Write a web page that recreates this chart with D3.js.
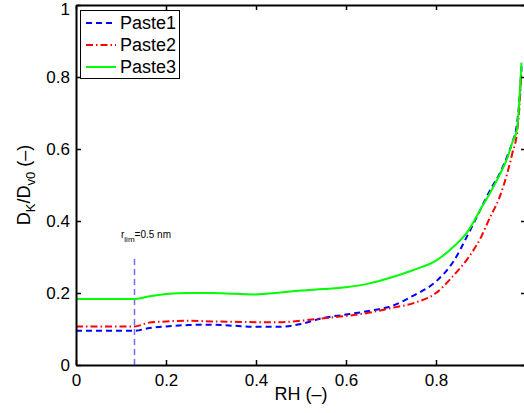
<!DOCTYPE html>
<html><head><meta charset="utf-8">
<script src="https://cdn.jsdelivr.net/npm/d3@7"></script>
<style>body{margin:0;background:#fff;} svg{display:block;font-family:Arial,"Liberation Sans",sans-serif;}</style>
</head><body>
<svg id="c" width="524" height="413"></svg>
<script>
const rh = [0, 0.05, 0.1, 0.13, 0.16, 0.2, 0.25, 0.3, 0.35, 0.4, 0.45, 0.5, 0.55, 0.6, 0.65, 0.7, 0.75, 0.8, 0.84, 0.87, 0.9, 0.92, 0.94, 0.96, 0.97, 0.98, 0.985, 0.99];
const paste1 = [0.095, 0.095, 0.095, 0.095, 0.102, 0.107, 0.111, 0.112, 0.109, 0.106, 0.106, 0.114, 0.131, 0.14, 0.15, 0.163, 0.193, 0.232, 0.29, 0.36, 0.435, 0.485, 0.528, 0.585, 0.62, 0.67, 0.73, 0.83];
const paste2 = [0.107, 0.107, 0.107, 0.107, 0.117, 0.121, 0.123, 0.121, 0.12, 0.119, 0.119, 0.123, 0.13, 0.136, 0.145, 0.158, 0.172, 0.2, 0.25, 0.295, 0.355, 0.41, 0.462, 0.54, 0.59, 0.645, 0.71, 0.82];
const paste3 = [0.183, 0.183, 0.183, 0.183, 0.19, 0.197, 0.2, 0.2, 0.198, 0.196, 0.201, 0.207, 0.211, 0.216, 0.226, 0.243, 0.264, 0.29, 0.33, 0.37, 0.435, 0.478, 0.525, 0.58, 0.62, 0.655, 0.73, 0.84];
const seriesNames = ["Paste1", "Paste2", "Paste3"];
const xTicks = [0, 0.2, 0.4, 0.6, 0.8];
const yTicks = [0, 0.2, 0.4, 0.6, 0.8, 1];
const rLim = 0.13;
const rLimTop = 0.297;

const svg = d3.select("#c");
const L = 76, R = 526, T = 5, B = 365;
const x = d3.scaleLinear().domain([0, 1]).range([L, R]);
const y = d3.scaleLinear().domain([0, 1]).range([B, T]);

svg.append("defs").append("clipPath").attr("id", "clip")
  .append("rect").attr("x", L).attr("y", T).attr("width", R - L).attr("height", B - T);

const styles = [
  {color: "#0000ff", dash: "6,4"},
  {color: "#ff0000", dash: "7,3,1.5,3"},
  {color: "#00ff00", dash: null}
];
const data = [paste1, paste2, paste3];

// vertical marker
svg.append("line")
  .attr("x1", x(rLim)).attr("x2", x(rLim))
  .attr("y1", y(0)).attr("y2", y(rLimTop))
  .attr("stroke", "#6e6eff").attr("stroke-width", 1.5).attr("stroke-dasharray", "6,4");

const line = d3.line().x(d => x(d[0])).y(d => y(d[1])).curve(d3.curveMonotoneX);
const g = svg.append("g").attr("clip-path", "url(#clip)");
data.forEach((vals, i) => {
  g.append("path")
    .datum(rh.map((v, j) => [v, vals[j]]))
    .attr("d", line)
    .attr("fill", "none")
    .attr("stroke", styles[i].color)
    .attr("stroke-width", 2)
    .attr("stroke-dasharray", styles[i].dash);
});

// axes
const fmt = d => d === 0 ? "0" : d === 1 ? "1" : d3.format(".1f")(d);
const axB = svg.append("g").attr("transform", `translate(0,${B})`)
  .call(d3.axisBottom(x).tickValues(xTicks).tickFormat(fmt).tickSizeInner(-5).tickSizeOuter(0).tickPadding(9));
const axL = svg.append("g").attr("transform", `translate(${L},0)`)
  .call(d3.axisLeft(y).tickValues(yTicks).tickFormat(fmt).tickSizeInner(-5).tickSizeOuter(0).tickPadding(6));
const axT = svg.append("g").attr("transform", `translate(0,${T})`)
  .call(d3.axisTop(x).tickValues(xTicks).tickFormat("").tickSizeInner(-5).tickSizeOuter(0));
const axR = svg.append("g").attr("transform", `translate(${R},0)`)
  .call(d3.axisRight(y).tickValues(yTicks).tickFormat("").tickSizeInner(-5).tickSizeOuter(0));
[axB, axL, axT, axR].forEach(a => {
  a.select(".domain").attr("stroke", "#000").attr("stroke-width", 2);
  a.selectAll(".tick line").attr("stroke", "#000").attr("stroke-width", 1.5);
  a.selectAll("text").attr("fill", "#000").attr("font-size", 17).attr("font-family", "Arial, 'Liberation Sans', sans-serif");
});
// keep the top "1" label inside the picture
axL.selectAll(".tick").filter(d => d === 1).select("text").attr("dy", "0.32em").attr("y", 4);

// rlim label
const lab = svg.append("text").attr("x", 121).attr("y", 238).attr("font-size", 10).attr("fill", "#000");
lab.append("tspan").text("r");
lab.append("tspan").attr("font-size", 8).attr("dy", 4).text("lim");
lab.append("tspan").attr("dy", -4).text("=0.5 nm");

// axis labels
svg.append("text").attr("x", (L + R) / 2).attr("y", 400).attr("text-anchor", "middle")
  .attr("font-size", 18).attr("fill", "#000").text("RH (\u2013)");
const yl = svg.append("text").attr("transform", `translate(30,${(T + B) / 2}) rotate(-90)`)
  .attr("text-anchor", "middle").attr("font-size", 18).attr("fill", "#000");
yl.append("tspan").text("D");
yl.append("tspan").attr("font-size", 13).attr("dy", 5).text("K");
yl.append("tspan").attr("dy", -5).text("/D");
yl.append("tspan").attr("font-size", 13).attr("dy", 5).text("v0");
yl.append("tspan").attr("dy", -5).text(" (\u2013)");

// legend
const lg = svg.append("g");
lg.append("rect").attr("x", 80.5).attr("y", 10.5).attr("width", 99).attr("height", 68)
  .attr("fill", "#fff").attr("stroke", "#000").attr("stroke-width", 1);
seriesNames.forEach((n, i) => {
  const yy = 23 + i * 22;
  lg.append("line").attr("x1", 86).attr("x2", 116).attr("y1", yy).attr("y2", yy)
    .attr("stroke", styles[i].color).attr("stroke-width", 2).attr("stroke-dasharray", styles[i].dash);
  lg.append("text").attr("x", 120).attr("y", yy + 6).attr("font-size", 18).attr("fill", "#000").text(n);
});
</script>
</body></html>
